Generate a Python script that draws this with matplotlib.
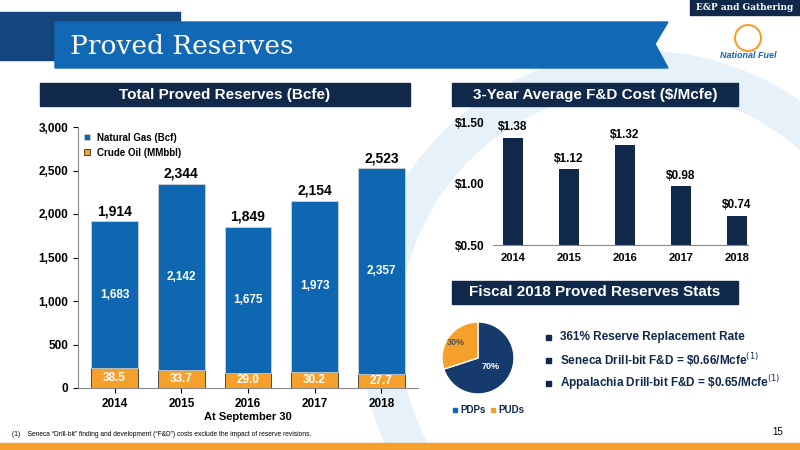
import numpy as np
import matplotlib.pyplot as plt
from matplotlib.patches import Rectangle, Polygon, Circle

years = ["2014", "2015", "2016", "2017", "2018"]
gas_bcf = [1683, 2142, 1675, 1973, 2357]
oil_mmbbl = [38.5, 33.7, 29.0, 30.2, 27.7]
totals = [1914, 2344, 1849, 2154, 2523]
fd_cost = [1.38, 1.12, 1.32, 0.98, 0.74]
pie_labels = ["PDPs", "PUDs"]
pie_share = [70, 30]
stats = ["361% Reserve Replacement Rate",
         "Seneca Drill-bit F&D = \\$0.66/Mcfe$^{(1)}$",
         "Appalachia Drill-bit F&D = \\$0.65/Mcfe$^{(1)}$"]

NAVY = "#10294a"
BLUE = "#0f67b1"
ORANGE = "#f5a02a"
W, H = 800, 450

plt.rcParams['font.family'] = ['Liberation Sans', 'DejaVu Sans']
fig = plt.figure(figsize=(8, 4.5), dpi=100)
bg = fig.add_axes([0, 0, 1, 1])
bg.set_xlim(0, W)
bg.set_ylim(H, 0)
bg.axis("off")


def px_axes(x0, y0, x1, y1):
    return fig.add_axes([x0 / W, 1 - y1 / H, (x1 - x0) / W, (y1 - y0) / H])


# background decoration
bg.add_patch(Circle((640, 330), 260, fill=False, lw=28, ec="#e6f1f9", zorder=0))
bg.add_patch(Polygon([[0, 12], [180, 12], [180, 60], [0, 60]], color="#14457c", zorder=1))
bg.add_patch(Polygon([[55, 22], [668, 22], [655, 44], [668, 68], [55, 68]], color="#1168b5", zorder=2))
bg.text(70, 46, "Proved Reserves", color="white", fontsize=19, family="DejaVu Serif", va="center", zorder=3)
bg.add_patch(Rectangle((690, 0), 110, 15, color=NAVY))
bg.text(745, 7, "E&P and Gathering", color="white", fontsize=6.5, weight="bold",
        family="DejaVu Serif", ha="center", va="center")
bg.text(748, 58, "National Fuel", color="#1168b5", fontsize=6.5, weight="bold", style="italic", ha="center")
bg.add_patch(Circle((748, 38), 13, fc="white", ec=ORANGE, lw=1.5))

for (x0, y0, x1, y1, t) in [(40, 83, 410, 106, "Total Proved Reserves (Bcfe)"),
                            (452, 83, 738, 106, "3-Year Average F&D Cost (\\$/Mcfe)"),
                            (452, 281, 738, 304, "Fiscal 2018 Proved Reserves Stats")]:
    bg.add_patch(Rectangle((x0, y0), x1 - x0, y1 - y0, color=NAVY))
    bg.text((x0 + x1) / 2, (y0 + y1) / 2, t, color="white", fontsize=11, weight="bold",
            ha="center", va="center")

bg.add_patch(Rectangle((0, 443), W, 7, color=ORANGE))
bg.text(12, 434, "(1)    Seneca \u201cDrill-bit\u201d finding and development (\u201cF&D\u201d) costs exclude the impact of reserve revisions.",
        fontsize=4.8, va="center")
bg.text(778, 432, "15", fontsize=7, ha="center", va="center")

# left stacked bar chart
ax = px_axes(78, 127, 418, 388)
x = np.arange(len(years))
oil_bcfe = np.array(oil_mmbbl) * 6
ax.bar(x, oil_bcfe, 0.7, color=ORANGE, ec="#333333", lw=0.6, label="Crude Oil (MMbbl)")
ax.bar(x, gas_bcf, 0.7, bottom=oil_bcfe, color=BLUE, ec="#d0d0d0", lw=0.6, label="Natural Gas (Bcf)")
for i in range(len(years)):
    ax.text(x[i], oil_bcfe[i] / 2, f"{oil_mmbbl[i]:.1f}", color="white", fontsize=8.5, weight="bold",
            ha="center", va="center")
    ax.text(x[i], oil_bcfe[i] + gas_bcf[i] / 2, f"{gas_bcf[i]:,}", color="white", fontsize=8.5,
            weight="bold", ha="center", va="center")
    ax.text(x[i], totals[i] + 40, f"{totals[i]:,}", fontsize=10, weight="bold", ha="center", va="bottom")
ax.set_ylim(0, 3000)
ax.set_xlim(-0.55, 4.55)
ax.set_yticks(range(0, 3001, 500))
ax.set_yticklabels([f"{v:,}" for v in range(0, 3001, 500)], fontsize=8.5, weight="bold")
ax.set_xticks(x)
ax.set_xticklabels(years, fontsize=8.5, weight="bold")
ax.set_xlabel("At September 30", fontsize=8, weight="bold", labelpad=2)
for s in ["top", "right"]:
    ax.spines[s].set_visible(False)
ax.spines["left"].set_color("#888888")
ax.spines["bottom"].set_color("#888888")
ax.patch.set_alpha(0)
h, l = ax.get_legend_handles_labels()
ax.legend(h[::-1], l[::-1], loc="upper left", frameon=False,
          prop={"weight": "bold", "size": 7}, handlelength=0.6, handleheight=0.6, borderaxespad=0.2)

# right F&D bar chart
ax2 = px_axes(493, 123, 748, 245)
ax2.bar(x, fd_cost, 0.36, color=NAVY)
for i in range(len(years)):
    ax2.text(x[i], fd_cost[i] + 0.06, f"${fd_cost[i]:.2f}", fontsize=8.5, weight="bold", ha="center")
ax2.set_ylim(0.5, 1.5)
ax2.set_xlim(-0.35, 4.2)
ax2.set_yticks([0.5, 1.0, 1.5])
ax2.set_yticklabels(["\\$0.50", "\\$1.00", "\\$1.50"], fontsize=8.5, weight="bold")
ax2.set_xticks(x)
ax2.set_xticklabels(years, fontsize=8, weight="bold")
ax2.tick_params(length=0, pad=6)
for s in ["top", "right", "left"]:
    ax2.spines[s].set_visible(False)
ax2.spines["bottom"].set_color("#888888")
ax2.patch.set_alpha(0)

# pie
ax3 = px_axes(430, 313, 526, 403)
wedges, _ = ax3.pie(pie_share, colors=["#153a6b", ORANGE], startangle=90, counterclock=False,
                    wedgeprops={"ec": "white", "lw": 1})
ax3.text(0.35, -0.3, "70%", color="white", fontsize=6.5, weight="bold", ha="center")
ax3.text(-0.6, 0.35, "30%", color="#555555", fontsize=6.5, weight="bold", ha="center")
ax3.set_aspect("equal")
for i, lab in enumerate(pie_labels):
    bg.add_patch(Rectangle((453 + i * 38, 408), 4, 4, color=[BLUE, ORANGE][i]))
    bg.text(460 + i * 38, 410, lab, fontsize=7, weight="bold", color=NAVY, va="center")

for i, s in enumerate(stats):
    y = 337 + i * 23
    bg.add_patch(Rectangle((546, y - 2.5), 5, 5, color=NAVY))
    bg.text(560, y, s, fontsize=8.5, weight="bold", color=NAVY, va="center")

fig.savefig("out.png", dpi=100)
